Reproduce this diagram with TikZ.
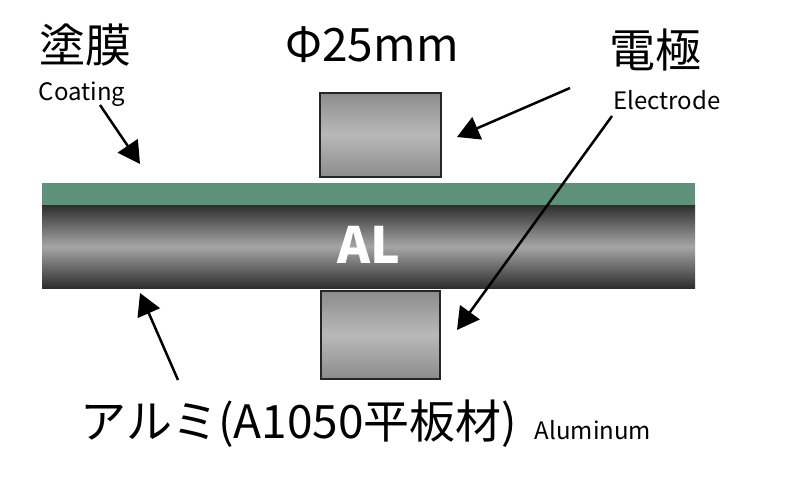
\documentclass[tikz,border=0pt]{standalone}
\usepackage{fontspec}
\setmainfont{Noto Sans CJK JP}
\usetikzlibrary{arrows.meta}
\begin{document}
\begin{tikzpicture}[x=1pt,y=-1pt,
  elec/.style={draw=black!85,line width=2pt,top color=gray!90,bottom color=gray!90,middle color=gray!55,shading angle=0},
  arr/.style={line width=2.5pt,-{Triangle[length=22pt,width=24pt]}},
  big/.style={font=\fontsize{46}{50}\selectfont},
  small/.style={font=\fontsize{24}{28}\selectfont}]
\useasboundingbox (0,0) rectangle (808,480);
\fill[white] (0,0) rectangle (808,480);
\fill[top color=black!82,bottom color=black!82,middle color=black!35] (42,205) rectangle (695,288);
\fill[fill={rgb,255:red,94;green,145;blue,122}] (42,183) rectangle (695,205);
\node[text=white,font=\bfseries\fontsize{50}{54}\selectfont] (al) at (369,245) {AL};
\node[elec,minimum width=121pt,minimum height=84pt] (e1) at (380.5,134.5) {};
\node[elec,minimum width=119pt,minimum height=88pt] (e2) at (380,335) {};
\node[big] (t1) at (85,45) {塗膜};
\node[small] (t2) at (82,94) {Coating};
\node[big] (t3) at (372,45) {Φ25mm};
\node[big] (t4) at (655,50) {電極};
\node[small] (t5) at (667,100) {Electrode};
\node[big] (t6) at (299,424) {アルミ(A1050平板材)};
\node[small] (t7) at (593,430) {Aluminum};
\coordinate (a1s) at (100,105); \coordinate (a1e) at (140,164);
\coordinate (a2s) at (178,380); \coordinate (a2e) at (140,293);
\coordinate (a3s) at (570,88); \coordinate (a3e) at (457,137);
\coordinate (a4s) at (612,116); \coordinate (a4e) at (457,330);
\draw[arr] (a1s) -- (a1e);
\draw[arr] (a2s) -- (a2e);
\draw[arr] (a3s) -- (a3e);
\draw[arr] (a4s) -- (a4e);
\end{tikzpicture}
\end{document}
